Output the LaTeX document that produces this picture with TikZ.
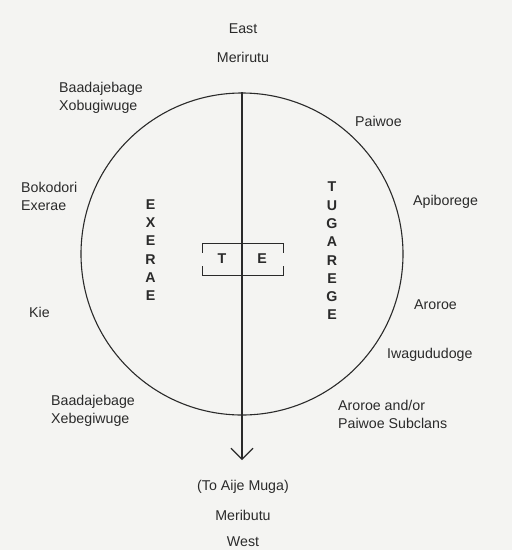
\documentclass[tikz,border=0pt]{standalone}
\usepackage{fontspec}
\setmainfont{Liberation Sans}
\usetikzlibrary{arrows.meta, positioning}
\definecolor{inkGray}{HTML}{2A2A2A}
\definecolor{paperGray}{HTML}{F4F4F2}
\tikzset{
  clan/.style={inner sep=0pt, text=inkGray, anchor=west, align=left,
               font=\fontsize{14.2}{18}\selectfont},
  compass/.style={inner sep=0pt, text=inkGray, align=center,
                  font=\fontsize{14.2}{18}\selectfont},
  moiety/.style={inner sep=0pt, text=inkGray, align=center,
                 font=\bfseries\fontsize{14.2}{18.3}\selectfont},
  axisArrow/.style={-{Straight Barb[length=11pt, width=22pt]}, draw=inkGray, line width=1.1pt},
  hutLine/.style={draw=inkGray, line width=1pt},
}
\begin{document}
\begin{tikzpicture}[x=1pt, y=-1pt]
    \fill[paperGray] (0,0) rectangle (512,550);
    \useasboundingbox (0,0) rectangle (512,550);
    % village ring and east-west axis
    \node[circle, draw=inkGray, line width=1.1pt, minimum size=322pt, inner sep=0pt] (ring) at (242,254) {};
    \coordinate (tip) at (242,460);
    \draw[axisArrow] (ring.north) -- (tip);
    % men's house
    \node[minimum width=80pt, minimum height=31pt, inner sep=0pt] (hut) at (243,259.5) {};
    \draw[hutLine] ([yshift=-9pt]hut.north west) -- (hut.north west) -- (hut.north east) -- ([yshift=-9pt]hut.north east);
    \draw[hutLine] ([yshift=9pt]hut.south west) -- (hut.south west) -- (hut.south east) -- ([yshift=9pt]hut.south east);
    \node[moiety] (hutT) at (222,259) {T};
    \node[moiety] (hutE) at (262,259) {E};
    % moieties
    \node[moiety] (exerae) at (150.5,250) {E\\X\\E\\R\\A\\E};
    \node[moiety] (tugarege) at (332,251) {T\\U\\G\\A\\R\\E\\G\\E};
    % cardinal points
    \node[compass] (east) at (243,29) {East};
    \node[compass] (merirutu) at (243,57) {Merirutu};
    \node[compass] (aije) at (243,487) {(To Aije Muga)};
    \node[compass] (meributu) at (243,515) {Meributu};
    \node[compass] (west) at (243,542) {West};
    % clans
    \node[clan] (baadaXo) at (59,98) {Baadajebage\\Xobugiwuge};
    \node[clan] (bokodori) at (21,196) {Bokodori\\Exerae};
    \node[clan] (kie) at (29,312) {Kie};
    \node[clan] (baadaXe) at (51,411) {Baadajebage\\Xebegiwuge};
    \node[clan] (paiwoe) at (355,121) {Paiwoe};
    \node[clan] (apiborege) at (413,202) {Apiborege};
    \node[clan] (aroroe) at (414,305) {Aroroe};
    \node[clan] (iwagu) at (387,355) {Iwagududoge};
    \node[clan] (subclans) at (338,414) {Aroroe and/or\\Paiwoe Subclans};
\end{tikzpicture}
\end{document}
